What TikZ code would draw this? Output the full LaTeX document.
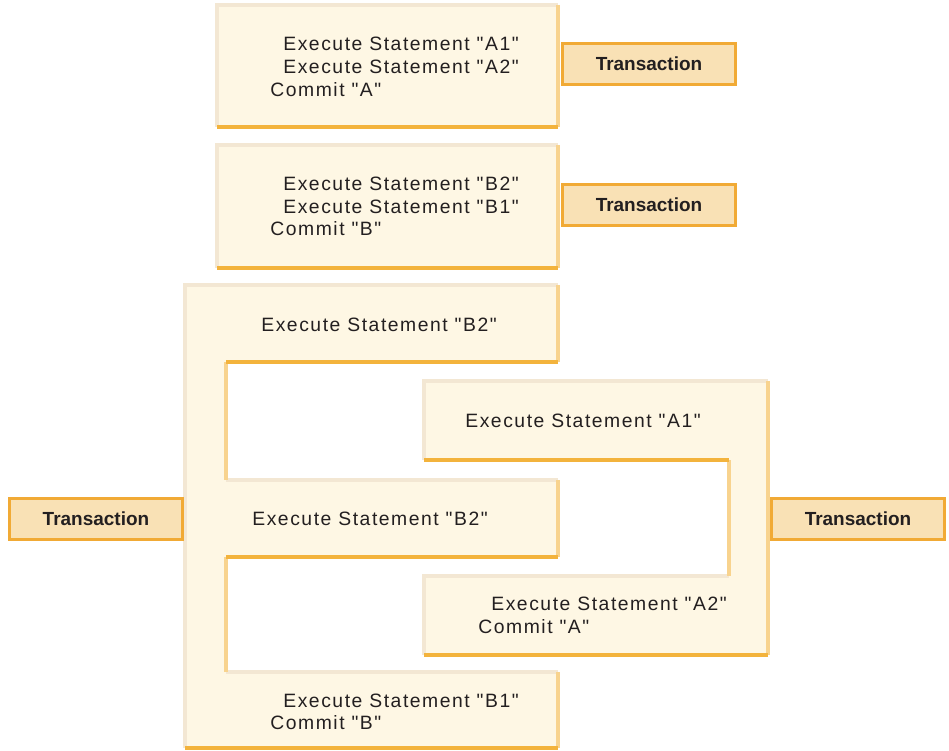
\documentclass[tikz,border=0pt]{standalone}
\usepackage{fontspec}
\usepackage{tikz}
\newfontfamily\stmtfont[LetterSpace=8]{Liberation Sans}
\newfontfamily\tranfont{Liberation Sans}
\definecolor{boxfill}{HTML}{FEF7E4}
\definecolor{edgelight}{HTML}{F3E7D3}
\definecolor{edgeright}{HTML}{F8D38E}
\definecolor{edgedark}{HTML}{F3B33C}
\definecolor{tranfill}{HTML}{F9E1B5}
\definecolor{tranedge}{HTML}{F1AA35}
\definecolor{txtgray}{HTML}{231F20}
\newcommand{\stmtbox}[4]{%
\fill[boxfill] (#1,#2) rectangle (#3,#4);
\draw[lite] (#1,#4) -- (#1,#2) -- (#3,#2);
\draw[rside] (#3,#2) -- (#3,#4);
\draw[dark] (#1,#4) -- (#3,#4);}

\begin{document}
\begin{tikzpicture}[x=0.02cm,y=-0.02cm,
  lite/.style={draw=edgelight,line width=2.2pt},
  rside/.style={draw=edgeright,line width=2.2pt},
  dark/.style={draw=edgedark,line width=2.2pt},
  stmt/.style={anchor=west,inner sep=0pt,text=txtgray,font=\stmtfont\fontsize{11}{13}\selectfont},
  tranbox/.style={draw=tranedge,fill=tranfill,line width=1.8pt,minimum width=3.46cm,minimum height=0.82cm,text=txtgray,font=\tranfont\bfseries\fontsize{10.8}{13}\selectfont}]
\useasboundingbox (0,0) rectangle (949,750);
% transaction A
\stmtbox{217}{5}{558}{127}
\node[stmt] (a1) at (283,44) {Execute Statement "A1"};
\node[stmt] (a2) at (283,67) {Execute Statement "A2"};
\node[stmt] (ca) at (270,90) {Commit "A"};
\node[tranbox] (tA) at (649,64) {Transaction};
% transaction B
\stmtbox{217}{145}{558}{268}
\node[stmt] (b2) at (283,184) {Execute Statement "B2"};
\node[stmt] (b1) at (283,207) {Execute Statement "B1"};
\node[stmt] (cb) at (270,229) {Commit "B"};
\node[tranbox] (tB) at (649,205) {Transaction};
% interleaved B
\fill[boxfill] (185,285) -- (558,285) -- (558,362) -- (226,362) -- (226,480) -- (558,480) -- (558,557)
  -- (226,557) -- (226,672) -- (558,672) -- (558,748) -- (185,748) -- cycle;
\draw[lite] (185,748) -- (185,285) -- (558,285);
\draw[lite] (226,480) -- (558,480);
\draw[lite] (226,672) -- (558,672);
\draw[rside] (558,285) -- (558,362);
\draw[rside] (226,362) -- (226,480);
\draw[rside] (558,480) -- (558,557);
\draw[rside] (226,557) -- (226,672);
\draw[rside] (558,672) -- (558,748);
\draw[dark] (226,362) -- (558,362);
\draw[dark] (226,557) -- (558,557);
\draw[dark] (185,748) -- (558,748);
% interleaved A
\fill[boxfill] (424,381) -- (768,381) -- (768,655) -- (424,655) -- (424,576) -- (729,576) -- (729,460)
  -- (424,460) -- cycle;
\draw[lite] (424,460) -- (424,381) -- (768,381);
\draw[lite] (424,655) -- (424,576) -- (729,576);
\draw[rside] (768,381) -- (768,655);
\draw[rside] (729,460) -- (729,576);
\draw[dark] (424,460) -- (729,460);
\draw[dark] (424,655) -- (768,655);
\node[stmt] (ib2) at (261,325) {Execute Statement "B2"};
\node[stmt] (ia1) at (465,421) {Execute Statement "A1"};
\node[stmt] (ib2b) at (252,519) {Execute Statement "B2"};
\node[stmt] (ia2) at (491,604) {Execute Statement "A2"};
\node[stmt] (ica) at (478,627) {Commit "A"};
\node[stmt] (ib1) at (283,701) {Execute Statement "B1"};
\node[stmt] (icb) at (270,723) {Commit "B"};
\node[tranbox] (tL) at (96,519) {Transaction};
\node[tranbox] (tR) at (858,519) {Transaction};
\end{tikzpicture}
\end{document}
